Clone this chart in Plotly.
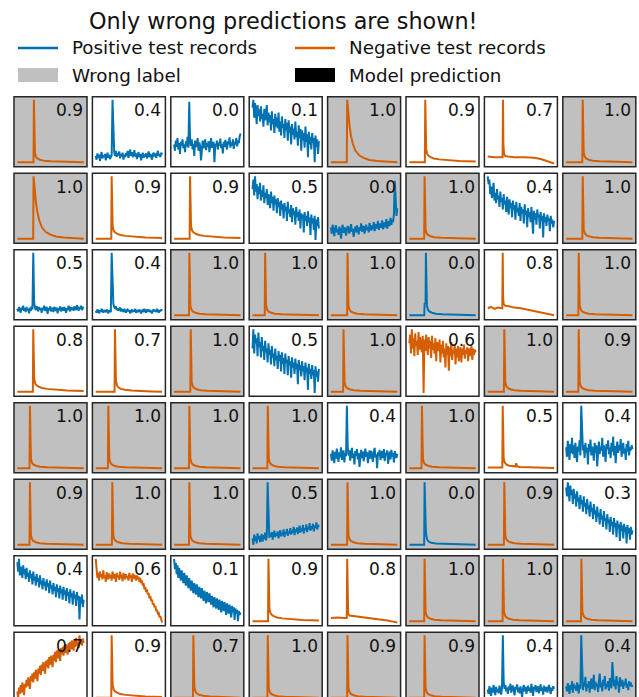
import numpy as np
import plotly.graph_objects as go

TITLE = "Only wrong predictions are shown!"
LEG_POS = "Positive test records"
LEG_NEG = "Negative test records"
LEG_WRONG = "Wrong label"
LEG_PRED = "Model prediction"

# ---- spike-shaped records (x as fraction of record length, y normalised) ----
S25_X = [0.00, 0.244, 0.25, 0.256, 0.265, 0.28, 0.30, 0.34, 0.40, 0.50, 0.65, 0.82, 1.00]
S25_Y = [0.02, 0.02, 1.00, 0.35, 0.17, 0.11, 0.08, 0.06, 0.045, 0.035, 0.03, 0.025, 0.02]
S23_X = [0.00, 0.224, 0.23, 0.236, 0.245, 0.26, 0.28, 0.32, 0.38, 0.48, 0.63, 0.80, 1.00]
S23_Y = [0.02, 0.02, 1.00, 0.35, 0.17, 0.11, 0.08, 0.06, 0.045, 0.035, 0.03, 0.025, 0.02]
S19_X = [0.00, 0.184, 0.19, 0.196, 0.205, 0.22, 0.24, 0.28, 0.34, 0.44, 0.60, 0.78, 1.00]
S19_Y = [0.02, 0.02, 1.00, 0.35, 0.17, 0.11, 0.08, 0.06, 0.045, 0.035, 0.03, 0.025, 0.02]
S29_X = [0.00, 0.284, 0.29, 0.296, 0.305, 0.32, 0.34, 0.38, 0.44, 0.54, 0.68, 0.84, 1.00]
S29_Y = [0.02, 0.02, 1.00, 0.38, 0.19, 0.12, 0.09, 0.065, 0.05, 0.04, 0.03, 0.025, 0.02]
SLOW_X = [0.00, 0.239, 0.245, 0.26, 0.28, 0.30, 0.33, 0.37, 0.43, 0.50, 0.58, 0.70, 0.85, 1.00]
SLOW_Y = [0.02, 0.02, 1.00, 0.78, 0.60, 0.45, 0.31, 0.20, 0.125, 0.085, 0.056, 0.04, 0.03, 0.02]
MOD_X = [0.00, 0.234, 0.24, 0.246, 0.255, 0.27, 0.29, 0.32, 0.37, 0.45, 0.58, 0.75, 1.00]
MOD_Y = [0.02, 0.02, 1.00, 0.40, 0.22, 0.15, 0.12, 0.10, 0.08, 0.065, 0.05, 0.04, 0.03]
SLP1_X = [0.00, 0.10, 0.224, 0.23, 0.236, 0.245, 0.26, 0.30, 0.40, 0.55, 0.70, 0.80, 0.90, 1.00]
SLP1_Y = [0.11, 0.10, 0.10, 1.00, 0.30, 0.16, 0.12, 0.11, 0.10, 0.10, 0.09, 0.07, 0.04, 0.00]
SLP2_X = [0.00, 0.05, 0.10, 0.15, 0.22, 0.226, 0.232, 0.24, 0.26, 0.32, 0.40, 0.50, 0.60, 0.70, 0.80, 0.90, 1.00]
SLP2_Y = [0.13, 0.15, 0.12, 0.14, 0.13, 1.00, 0.30, 0.20, 0.17, 0.16, 0.14, 0.13, 0.11, 0.09, 0.07, 0.04, 0.02]
SLP3_X = [0.00, 0.10, 0.20, 0.239, 0.245, 0.251, 0.26, 0.28, 0.35, 0.45, 0.55, 0.65, 0.75, 0.85, 0.95, 1.00]
SLP3_Y = [0.07, 0.08, 0.07, 0.07, 1.00, 0.25, 0.14, 0.11, 0.10, 0.09, 0.08, 0.06, 0.05, 0.03, 0.01, 0.00]
BUMP_X = [0.00, 0.22, 0.226, 0.232, 0.24, 0.255, 0.28, 0.32, 0.38, 0.42, 0.43, 0.44, 0.48, 0.60, 0.80, 1.00]
BUMP_Y = [0.03, 0.03, 1.00, 0.35, 0.18, 0.11, 0.08, 0.06, 0.05, 0.05, 0.10, 0.05, 0.04, 0.035, 0.03, 0.025]
PRE_X = [0.00, 0.225, 0.23, 0.245, 0.25, 0.256, 0.265, 0.28, 0.30, 0.34, 0.40, 0.50, 0.65, 0.82, 1.00]
PRE_Y = [0.02, 0.02, 0.20, 0.22, 1.00, 0.35, 0.17, 0.11, 0.08, 0.06, 0.045, 0.035, 0.03, 0.025, 0.02]
SHO_X = [0.00, 0.224, 0.23, 0.236, 0.242, 0.248, 0.256, 0.27, 0.29, 0.33, 0.40, 0.50, 0.65, 0.82, 1.00]
SHO_Y = [0.02, 0.02, 1.00, 0.48, 0.45, 0.28, 0.16, 0.10, 0.07, 0.05, 0.04, 0.035, 0.03, 0.025, 0.02]

# ---- noisy records (evenly sampled, 80 samples each) ----
N_R1C2 = [0.12,0.06,0.16,0.09,0.14,0.04,0.11,0.18,0.08,0.13, 0.10,0.15,0.05,0.12,0.17,0.09,0.14,0.07,0.11,0.13,
          1.00,0.26,0.18,0.12,0.20,0.10,0.16,0.13,0.19,0.08, 0.15,0.11,0.17,0.06,0.14,0.10,0.16,0.12,0.20,0.09,
          0.15,0.22,0.12,0.18,0.10,0.14,0.21,0.11,0.16,0.07, 0.13,0.18,0.10,0.15,0.05,0.12,0.17,0.09,0.14,0.11,
          0.16,0.08,0.13,0.19,0.10,0.15,0.12,0.06,0.14,0.17, 0.11,0.16,0.09,0.13,0.20,0.12,0.15,0.10,0.17,0.14]
N_R1C3 = [0.30,0.20,0.36,0.26,0.40,0.22,0.32,0.15,0.34,0.28, 0.38,0.24,0.30,0.18,0.35,0.27,0.42,0.25,0.97,0.34,
          0.28,0.38,0.22,0.31,0.12,0.36,0.26,0.30,0.40,0.20, 0.33,0.27,0.05,0.30,0.36,0.24,0.29,0.38,0.21,0.32,
          0.26,0.35,0.18,0.30,0.40,0.25,0.28,0.34,0.02,0.31, 0.27,0.36,0.22,0.33,0.28,0.39,0.24,0.30,0.16,0.34,
          0.26,0.37,0.29,0.22,0.35,0.30,0.41,0.25,0.33,0.28, 0.38,0.23,0.34,0.30,0.40,0.27,0.36,0.32,0.42,0.47]
N_R1C4 = [0.88,1.00,0.72,0.95,0.80,0.62,0.92,0.75,0.85,0.66, 0.90,0.70,0.78,0.58,0.86,0.68,0.74,0.92,0.60,0.80,
          0.65,0.76,0.52,0.82,0.62,0.70,0.48,0.78,0.58,0.72, 0.55,0.80,0.50,0.66,0.44,0.74,0.56,0.62,0.40,0.70,
          0.52,0.64,0.36,0.68,0.48,0.58,0.30,0.62,0.45,0.55, 0.38,0.66,0.42,0.50,0.28,0.60,0.40,0.54,0.20,0.52,
          0.36,0.48,0.25,0.58,0.34,0.46,0.10,0.50,0.30,0.42, 0.22,0.48,0.32,0.40,0.02,0.44,0.26,0.38,0.15,0.35]
N_R2C4 = [0.80,0.95,0.70,1.00,0.76,0.88,0.64,0.84,0.72,0.90, 0.62,0.78,0.68,0.86,0.58,0.74,0.66,0.80,0.55,0.72,
          0.62,0.50,0.76,0.58,0.68,0.46,0.70,0.56,0.64,0.42, 0.66,0.52,0.60,0.38,0.62,0.48,0.56,0.34,0.58,0.46,
          0.52,0.30,0.60,0.42,0.48,0.36,0.55,0.28,0.50,0.40, 0.46,0.24,0.52,0.36,0.44,0.30,0.48,0.18,0.42,0.34,
          0.40,0.12,0.44,0.30,0.38,0.22,0.45,0.28,0.35,0.08, 0.40,0.26,0.34,0.16,0.38,0.00,0.32,0.22,0.36,0.18]
N_R2C5 = [0.20,0.10,0.24,0.14,0.06,0.19,0.23,0.12,0.17,0.08, 0.21,0.15,0.02,0.18,0.24,0.11,0.16,0.20,0.07,0.14,
          0.22,0.17,0.10,0.19,0.25,0.13,0.18,0.05,0.16,0.21, 0.12,0.23,0.17,0.09,0.20,0.15,0.26,0.13,0.19,0.22,
          0.10,0.18,0.24,0.16,0.20,0.12,0.27,0.19,0.15,0.23, 0.17,0.28,0.14,0.21,0.25,0.18,0.30,0.16,0.22,0.26,
          0.19,0.31,0.17,0.24,0.28,0.20,0.33,0.18,0.26,0.30, 0.22,0.35,0.24,0.32,0.28,0.40,0.93,0.45,0.38,0.50]
N_R2C7 = [1.00,0.88,0.95,0.72,0.84,0.66,0.78,0.90,0.62,0.74, 0.58,0.80,0.64,0.70,0.52,0.76,0.60,0.66,0.48,0.72,
          0.56,0.62,0.44,0.68,0.54,0.40,0.64,0.50,0.58,0.36, 0.62,0.48,0.55,0.32,0.60,0.44,0.50,0.38,0.58,0.30,
          0.52,0.42,0.48,0.26,0.56,0.40,0.46,0.20,0.50,0.36, 0.44,0.28,0.52,0.34,0.10,0.46,0.32,0.42,0.24,0.48,
          0.36,0.40,0.18,0.44,0.30,0.38,0.04,0.42,0.28,0.36, 0.22,0.40,0.30,0.34,0.14,0.38,0.26,0.32,0.20,0.30]
N_R3C1 = [0.12,0.08,0.15,0.10,0.06,0.14,0.11,0.17,0.09,0.13, 0.07,0.15,0.10,0.12,0.05,0.14,0.09,0.16,0.11,1.00,
          0.22,0.14,0.10,0.16,0.12,0.08,0.15,0.11,0.13,0.06, 0.14,0.10,0.17,0.09,0.12,0.15,0.04,0.13,0.10,0.16,
          0.08,0.14,0.11,0.07,0.15,0.12,0.09,0.14,0.05,0.13, 0.10,0.16,0.08,0.12,0.14,0.09,0.15,0.11,0.06,0.13,
          0.10,0.17,0.12,0.08,0.15,0.11,0.14,0.09,0.16,0.12, 0.10,0.18,0.13,0.09,0.15,0.12,0.17,0.10,0.14,0.15]
N_R3C2 = [0.09,0.06,0.11,0.08,0.05,0.10,0.07,0.12,0.08,0.06, 0.10,0.09,0.07,0.11,0.08,0.05,0.10,0.09,0.07,1.00,
          0.32,0.20,0.15,0.12,0.16,0.10,0.13,0.09,0.12,0.14, 0.08,0.11,0.10,0.07,0.12,0.09,0.06,0.10,0.11,0.08,
          0.10,0.05,0.09,0.11,0.07,0.10,0.08,0.12,0.06,0.09, 0.10,0.07,0.11,0.08,0.05,0.09,0.10,0.07,0.12,0.08,
          0.06,0.10,0.09,0.11,0.07,0.10,0.08,0.05,0.09,0.11, 0.08,0.10,0.07,0.12,0.09,0.06,0.10,0.08,0.11,0.09]
N_R4C4 = [0.70,1.00,0.62,0.92,0.78,0.86,0.58,0.95,0.72,0.80, 0.56,0.88,0.66,0.74,0.52,0.82,0.64,0.70,0.48,0.78,
          0.60,0.68,0.45,0.74,0.56,0.62,0.42,0.70,0.52,0.58, 0.38,0.66,0.50,0.60,0.34,0.64,0.46,0.55,0.30,0.62,
          0.48,0.52,0.28,0.58,0.44,0.50,0.24,0.56,0.40,0.48, 0.30,0.54,0.38,0.46,0.14,0.52,0.36,0.44,0.26,0.50,
          0.34,0.42,0.20,0.48,0.32,0.40,0.05,0.46,0.30,0.38, 0.22,0.44,0.28,0.36,0.00,0.42,0.26,0.34,0.18,0.38]
N_R4C6 = [0.78,0.92,0.62,1.00,0.70,0.86,0.58,0.94,0.74,0.82, 0.60,0.96,0.68,0.88,0.72,0.64,0.90,0.00,0.84,0.66,
          0.92,0.76,0.60,0.88,0.70,0.82,0.55,0.90,0.68,0.78, 0.62,0.86,0.50,0.80,0.72,0.66,0.84,0.48,0.76,0.62,
          0.82,0.56,0.70,0.40,0.78,0.60,0.74,0.35,0.72,0.58, 0.80,0.52,0.68,0.62,0.76,0.45,0.70,0.56,0.74,0.50,
          0.66,0.72,0.48,0.70,0.60,0.76,0.54,0.68,0.62,0.72, 0.50,0.70,0.58,0.66,0.74,0.52,0.70,0.60,0.68,0.64]
N_R5C5 = [0.25,0.14,0.30,0.20,0.10,0.28,0.17,0.33,0.22,0.12, 0.27,0.19,0.35,0.15,0.24,0.30,0.11,0.26,0.21,1.00,
          0.36,0.22,0.30,0.14,0.27,0.34,0.18,0.25,0.08,0.29, 0.21,0.32,0.16,0.26,0.04,0.23,0.31,0.18,0.28,0.13,
          0.25,0.33,0.20,0.27,0.10,0.24,0.30,0.17,0.29,0.22, 0.12,0.26,0.34,0.19,0.24,0.02,0.27,0.21,0.31,0.15,
          0.25,0.29,0.18,0.32,0.13,0.26,0.22,0.30,0.09,0.24, 0.28,0.16,0.31,0.20,0.26,0.11,0.29,0.23,0.18,0.25]
N_R5C8 = [0.35,0.20,0.45,0.28,0.15,0.40,0.26,0.50,0.24,0.38, 0.18,0.42,0.30,0.12,0.36,0.28,0.46,0.22,1.00,0.44,
          0.30,0.38,0.18,0.42,0.26,0.34,0.08,0.40,0.28,0.47, 0.22,0.36,0.30,0.14,0.42,0.26,0.38,0.05,0.33,0.44,
          0.24,0.36,0.30,0.50,0.20,0.38,0.28,0.12,0.40,0.32, 0.46,0.24,0.35,0.18,0.42,0.28,0.52,0.22,0.37,0.10,
          0.34,0.44,0.26,0.38,0.30,0.48,0.20,0.36,0.42,0.25, 0.33,0.15,0.40,0.28,0.45,0.22,0.35,0.30,0.38,0.32]
N_R6C4 = [0.12,0.02,0.18,0.08,0.15,0.04,0.20,0.10,0.16,0.06, 0.14,0.19,0.07,0.17,0.11,0.21,0.09,0.15,1.00,0.24,
          0.13,0.19,0.15,0.22,0.10,0.18,0.24,0.14,0.20,0.16, 0.23,0.12,0.19,0.25,0.15,0.21,0.17,0.26,0.14,0.22,
          0.19,0.27,0.16,0.23,0.20,0.28,0.18,0.24,0.21,0.30, 0.17,0.26,0.22,0.29,0.19,0.25,0.32,0.21,0.27,0.24,
          0.33,0.20,0.28,0.25,0.34,0.22,0.30,0.26,0.36,0.24, 0.31,0.27,0.35,0.23,0.32,0.29,0.37,0.26,0.33,0.30]
N_R6C8 = [0.92,0.78,1.00,0.84,0.70,0.95,0.80,0.88,0.66,0.90, 0.74,0.82,0.62,0.86,0.70,0.76,0.58,0.80,0.66,0.72,
          0.54,0.78,0.62,0.68,0.50,0.74,0.58,0.64,0.46,0.70, 0.54,0.60,0.42,0.66,0.50,0.56,0.38,0.62,0.46,0.52,
          0.34,0.58,0.42,0.48,0.30,0.55,0.40,0.44,0.26,0.50, 0.36,0.42,0.22,0.46,0.32,0.38,0.18,0.44,0.30,0.36,
          0.14,0.40,0.28,0.34,0.08,0.38,0.24,0.32,0.12,0.35, 0.22,0.30,0.04,0.33,0.20,0.28,0.10,0.30,0.18,0.25]
N_R7C1 = [0.95,0.80,1.00,0.74,0.88,0.82,0.70,0.90,0.76,0.84, 0.68,0.86,0.72,0.78,0.64,0.82,0.70,0.76,0.60,0.80,
          0.66,0.72,0.58,0.76,0.64,0.70,0.55,0.74,0.60,0.66, 0.52,0.70,0.58,0.64,0.50,0.68,0.56,0.62,0.46,0.66,
          0.54,0.58,0.44,0.62,0.50,0.56,0.40,0.60,0.48,0.54, 0.38,0.58,0.46,0.52,0.36,0.56,0.44,0.50,0.34,0.54,
          0.42,0.48,0.30,0.52,0.40,0.46,0.28,0.50,0.38,0.44, 0.26,0.48,0.36,0.42,0.05,0.40,0.30,0.44,0.24,0.36]
N_R7C2 = [1.00,0.84,0.70,0.78,0.66,0.80,0.72,0.76,0.68,0.82, 0.70,0.74,0.64,0.79,0.72,0.68,0.77,0.70,0.75,0.66,
          0.80,0.72,0.69,0.76,0.64,0.78,0.71,0.74,0.67,0.80, 0.70,0.75,0.65,0.78,0.72,0.68,0.76,0.70,0.73,0.66,
          0.78,0.71,0.74,0.64,0.77,0.69,0.75,0.70,0.66,0.74, 0.68,0.72,0.64,0.70,0.62,0.66,0.58,0.62,0.52,0.56,
          0.48,0.52,0.44,0.46,0.38,0.42,0.34,0.36,0.28,0.30, 0.24,0.26,0.18,0.20,0.14,0.15,0.08,0.10,0.04,0.00]
N_R7C3 = [1.00,0.84,0.94,0.76,0.90,0.70,0.86,0.78,0.66,0.82, 0.72,0.62,0.78,0.66,0.58,0.74,0.62,0.54,0.70,0.58,
          0.50,0.66,0.56,0.46,0.62,0.52,0.44,0.60,0.48,0.40, 0.56,0.46,0.38,0.54,0.42,0.34,0.50,0.40,0.30,0.48,
          0.38,0.32,0.46,0.34,0.28,0.42,0.32,0.24,0.40,0.30, 0.22,0.38,0.28,0.20,0.36,0.26,0.16,0.34,0.24,0.18,
          0.32,0.22,0.12,0.30,0.20,0.14,0.28,0.18,0.08,0.26, 0.16,0.24,0.04,0.22,0.14,0.20,0.02,0.18,0.12,0.16]
N_R8C1 = [0.12,0.02,0.18,0.08,0.22,0.10,0.26,0.14,0.06,0.24, 0.18,0.30,0.20,0.34,0.24,0.16,0.36,0.28,0.40,0.26,
          0.42,0.32,0.46,0.36,0.28,0.48,0.40,0.52,0.38,0.54, 0.44,0.58,0.46,0.40,0.60,0.50,0.62,0.48,0.66,0.54,
          0.68,0.56,0.50,0.70,0.60,0.74,0.58,0.76,0.64,0.78, 0.66,0.60,0.80,0.70,0.82,0.68,0.84,0.72,0.86,0.74,
          0.70,0.88,0.76,0.90,0.78,0.92,0.80,0.76,0.94,0.82, 0.96,0.84,0.90,0.80,1.00,0.86,0.92,0.84,0.95,0.88]
N_R8C7 = [0.15,0.08,0.20,0.12,0.05,0.18,0.10,0.22,0.14,0.06, 0.19,0.11,0.16,0.09,0.21,0.13,0.07,0.17,1.00,0.26,
          0.16,0.22,0.12,0.18,0.08,0.20,0.14,0.24,0.10,0.17, 0.21,0.13,0.06,0.19,0.15,0.23,0.11,0.18,0.09,0.20,
          0.14,0.03,0.17,0.22,0.12,0.19,0.08,0.16,0.21,0.13, 0.18,0.10,0.24,0.15,0.05,0.19,0.14,0.22,0.11,0.17,
          0.20,0.09,0.16,0.23,0.13,0.18,0.07,0.21,0.15,0.12, 0.19,0.10,0.17,0.22,0.14,0.08,0.18,0.13,0.20,0.16]
N_R8C8 = [0.20,0.12,0.25,0.18,0.08,0.22,0.15,0.28,0.10,0.24, 0.17,0.21,0.13,0.26,0.19,0.09,0.23,0.16,1.00,0.30,
          0.14,0.26,0.20,0.35,0.12,0.23,0.18,0.28,0.10,0.25, 0.32,0.16,0.22,0.38,0.14,0.27,0.20,0.24,0.11,0.29,
          0.40,0.18,0.26,0.12,0.30,0.21,0.36,0.15,0.24,0.19, 0.28,0.13,0.33,0.22,0.17,0.58,0.24,0.20,0.30,0.15,
          0.36,0.22,0.28,0.10,0.34,0.25,0.20,0.30,0.16,0.26, 0.22,0.32,0.18,0.24,0.14,0.28,0.21,0.26,0.19,0.22]

# ---- per-panel metadata (8 x 8 grid, row-major) ----
PANEL_SERIES = [
    ["S25", "R1C2", "R1C3", "R1C4", "SLOW", "MOD", "SLP1", "S25"],
    ["SLOW", "MOD", "MOD", "R2C4", "R2C5", "S23", "R2C7", "S25"],
    ["R3C1", "R3C2", "S23", "S19", "S25", "PRE", "SLP2", "S19"],
    ["MOD", "S29", "S25", "R4C4", "S19", "R4C6", "S25", "S19"],
    ["S19", "S19", "S23", "S23", "R5C5", "S19", "BUMP", "R5C8"],
    ["S19", "S25", "S23", "R6C4", "S25", "SHO", "S25", "R6C8"],
    ["R7C1", "R7C2", "R7C3", "MOD", "SLP3", "S23", "S23", "S23"],
    ["R8C1", "MOD", "S29", "S23", "S25", "S23", "R8C7", "R8C8"],
]
PANEL_CLASS = ["NPPPNNNN", "NNNPPNPN", "PPNNNPNN", "NNNPNNNN",
               "NNNNPNNP", "NNNPNPNP", "PNPNNNNN", "NNNNNNPP"]
PANEL_WRONG = ["10001001", "10001101", "00111101", "00101011",
               "11110100", "11111110", "00000111", "00111101"]
PANEL_PRED = [
    ["0.9", "0.4", "0.0", "0.1", "1.0", "0.9", "0.7", "1.0"],
    ["1.0", "0.9", "0.9", "0.5", "0.0", "1.0", "0.4", "1.0"],
    ["0.5", "0.4", "1.0", "1.0", "1.0", "0.0", "0.8", "1.0"],
    ["0.8", "0.7", "1.0", "0.5", "1.0", "0.6", "1.0", "0.9"],
    ["1.0", "1.0", "1.0", "1.0", "0.4", "1.0", "0.5", "0.4"],
    ["0.9", "1.0", "1.0", "0.5", "1.0", "0.0", "0.9", "0.3"],
    ["0.4", "0.6", "0.1", "0.9", "0.8", "1.0", "1.0", "1.0"],
    ["0.7", "0.9", "0.7", "1.0", "0.9", "0.9", "0.4", "0.4"],
]

SERIES = {
    "S25": (S25_X, S25_Y), "S23": (S23_X, S23_Y), "S19": (S19_X, S19_Y), "S29": (S29_X, S29_Y),
    "SLOW": (SLOW_X, SLOW_Y), "MOD": (MOD_X, MOD_Y), "SLP1": (SLP1_X, SLP1_Y),
    "SLP2": (SLP2_X, SLP2_Y), "SLP3": (SLP3_X, SLP3_Y), "BUMP": (BUMP_X, BUMP_Y),
    "PRE": (PRE_X, PRE_Y), "SHO": (SHO_X, SHO_Y),
}
NOISY = {"R1C2": N_R1C2, "R1C3": N_R1C3, "R1C4": N_R1C4, "R2C4": N_R2C4, "R2C5": N_R2C5,
         "R2C7": N_R2C7, "R3C1": N_R3C1, "R3C2": N_R3C2, "R4C4": N_R4C4, "R4C6": N_R4C6,
         "R5C5": N_R5C5, "R5C8": N_R5C8, "R6C4": N_R6C4, "R6C8": N_R6C8, "R7C1": N_R7C1,
         "R7C2": N_R7C2, "R7C3": N_R7C3, "R8C1": N_R8C1, "R8C7": N_R8C7, "R8C8": N_R8C8}
for name, ys in NOISY.items():
    SERIES[name] = (list(np.linspace(0, 1, len(ys))), ys)

POS_COLOR = "#0072B2"
NEG_COLOR = "#D55E00"
WRONG_COLOR = "#C0C0C0"
FRAME_COLOR = "#262626"
TEXT_COLOR = "#111111"
FONT = "DejaVu Sans"

W, H = 639, 697


def px(x):
    return x / W


def py(y):
    return 1 - y / H


LEFT0, DX, PW = 14.0, 78.4, 73.0
TOP0, DY, PH = 96.7, 76.5, 70.0

fig = go.Figure()
layout = dict(width=W, height=H, margin=dict(l=0, r=0, t=0, b=0),
              paper_bgcolor="white", plot_bgcolor="rgba(0,0,0,0)", showlegend=False,
              font=dict(family=FONT, color=TEXT_COLOR))
shapes = []
annotations = []

for r in range(8):
    for c in range(8):
        k = r * 8 + c + 1
        sfx = "" if k == 1 else str(k)
        xl, xr = LEFT0 + c * DX, LEFT0 + c * DX + PW
        yt, yb = TOP0 + r * DY, TOP0 + r * DY + PH
        yvis = min(yb, H)
        ybot_range = 1.05 - 1.1 * (yvis - yt) / PH
        layout["xaxis" + sfx] = dict(domain=[px(xl), px(xr)], range=[-0.05, 1.05],
                                     anchor="y" + sfx, showticklabels=False, showgrid=False,
                                     zeroline=False, showline=False, ticks="", fixedrange=True)
        layout["yaxis" + sfx] = dict(domain=[max(0.0, py(yvis)), py(yt)], range=[ybot_range, 1.05],
                                     anchor="x" + sfx, showticklabels=False, showgrid=False,
                                     zeroline=False, showline=False, ticks="", fixedrange=True)
        name = PANEL_SERIES[r][c]
        xs, ys = SERIES[name]
        color = POS_COLOR if PANEL_CLASS[r][c] == "P" else NEG_COLOR
        lw = 2.0
        fig.add_trace(go.Scatter(x=xs, y=ys, mode="lines", xaxis="x" + sfx, yaxis="y" + sfx,
                                 line=dict(color=color, width=lw), hoverinfo="skip"))
        if PANEL_WRONG[r][c] == "1":
            shapes.append(dict(type="rect", xref="paper", yref="paper", layer="below",
                               x0=px(xl), x1=px(xr), y0=py(yb), y1=py(yt),
                               fillcolor=WRONG_COLOR, line=dict(width=0)))
        shapes.append(dict(type="rect", xref="paper", yref="paper", layer="above",
                           x0=px(xl), x1=px(xr), y0=py(yb), y1=py(yt),
                           fillcolor="rgba(0,0,0,0)", line=dict(color=FRAME_COLOR, width=1.5)))
        annotations.append(dict(text=PANEL_PRED[r][c], xref="paper", yref="paper",
                                x=px(xr - 2.5), y=py(yt + 1.5), xanchor="right",
                                yanchor="top", showarrow=False,
                                font=dict(size=17, family=FONT, color=TEXT_COLOR)))

# title
annotations.append(dict(text=TITLE, xref="paper", yref="paper", x=px(283.5), y=py(21),
                        xanchor="center", yanchor="middle", showarrow=False,
                        font=dict(size=22.3, family=FONT, color=TEXT_COLOR)))
# legend
leg_items = [(LEG_POS, "line", POS_COLOR, 18, 48), (LEG_NEG, "line", NEG_COLOR, 295, 48),
             (LEG_WRONG, "rect", WRONG_COLOR, 18, 75), (LEG_PRED, "rect", "#000000", 295, 75)]
for label, kind, col, x0, yc in leg_items:
    if kind == "line":
        shapes.append(dict(type="line", xref="paper", yref="paper", x0=px(x0), x1=px(x0 + 40),
                           y0=py(yc), y1=py(yc), line=dict(color=col, width=2.6)))
    else:
        shapes.append(dict(type="rect", xref="paper", yref="paper", x0=px(x0), x1=px(x0 + 40),
                           y0=py(yc + 7), y1=py(yc - 7), fillcolor=col, line=dict(width=0)))
    annotations.append(dict(text=label, xref="paper", yref="paper", x=px(x0 + 52),
                            y=py(yc), xanchor="left", yanchor="middle", showarrow=False,
                            font=dict(size=18.3, family=FONT, color=TEXT_COLOR)))

layout["shapes"] = shapes
layout["annotations"] = annotations
fig.update_layout(**layout)
fig.write_html("out.html", config={"displayModeBar": False},
               post_script="document.body.style.margin='0px';document.body.style.overflow='hidden';")
